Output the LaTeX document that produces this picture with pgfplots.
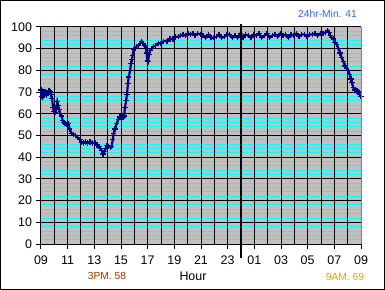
\documentclass[border=0pt]{standalone}
\usepackage{fontspec}
\setmainfont{Liberation Sans}
\usepackage{pgfplots}
\pgfplotsset{compat=1.18}
\definecolor{navyline}{HTML}{000080}
\definecolor{plotgray}{HTML}{C0C0C0}
\definecolor{cyanline}{HTML}{00FFFF}
\definecolor{minblue}{HTML}{3366FF}
\definecolor{brownlbl}{HTML}{993300}
\definecolor{orangelbl}{HTML}{FF9900}
\begin{document}
\begin{tikzpicture}
\begin{axis}[
  scale only axis, width=320bp, height=217bp,
  at={(0,0)}, anchor=south west,
  xmin=0, xmax=24, ymin=0, ymax=100,
  clip=false,
  axis background/.style={fill=plotgray},
  axis x line*=bottom, axis y line*=left,
  axis line style={line width=1bp, black, -},
  tick align=outside,
  major tick length=4.5bp,
  minor tick length=0pt,
  tick style={black, line width=1bp},
  xtick={0,2,...,24},
  xticklabels={09,11,13,15,17,19,21,23,01,03,05,07,09},
  ytick={0,10,...,100},
  minor y tick num=4,
  ymajorgrids, yminorgrids,
  major grid style={black, line width=1bp},
  minor grid style={cyanline, line width=0.9bp},
  extra x ticks={0,1,...,23},
  extra x tick labels={},
  extra x tick style={grid=major, major tick length=0pt, major grid style={black, line width=1bp}},
  /pgf/number format/assume math mode=true,
  ticklabel style={font=\fontsize{12.5}{14}\selectfont},
  xticklabel style={yshift=-4bp},
  yticklabel style={xshift=-1bp},
]
\addplot[navyline, line width=2.2bp, mark=+, mark size=2.6bp, mark options={line width=1.2bp}] coordinates {
(0.00,71) (0.05,68) (0.10,67.5) (0.15,70) (0.22,69) (0.30,70) (0.40,68.5) (0.50,69.5)
(0.60,70.5) (0.68,70) (0.75,69) (0.83,67) (0.90,63) (0.97,61) (1.03,60) (1.10,60.5)
(1.15,63) (1.22,65.5) (1.28,64) (1.35,62) (1.45,60) (1.55,59) (1.62,57) (1.68,56)
(1.80,55.5) (1.95,55) (2.05,55.5) (2.15,53) (2.30,51) (2.45,50.5) (2.60,50) (2.75,49)
(2.93,48) (3.05,47) (3.17,46.5) (3.35,47) (3.50,46.5) (3.68,47) (3.85,46.5) (4.05,46.5)
(4.20,45.5) (4.35,45) (4.45,44) (4.55,43) (4.65,41.5) (4.75,42.5) (4.85,44) (4.95,45.5)
(5.05,45) (5.20,44.5) (5.30,45) (5.38,48) (5.45,51) (5.55,53) (5.68,55.5) (5.80,57.5)
(5.93,58.5) (6.05,58) (6.15,58.5) (6.23,59) (6.30,63) (6.38,66) (6.45,69) (6.52,74)
(6.58,77) (6.68,80) (6.75,83) (6.82,85) (6.88,87) (6.95,89.5) (7.05,90) (7.18,91)
(7.30,91.5) (7.45,92.5) (7.55,93.5) (7.65,92.5) (7.75,91.5) (7.85,91) (7.92,88) (7.98,84.5)
(8.03,84) (8.10,87.5) (8.18,89) (8.30,90) (8.42,91) (8.60,91.5) (8.80,92.5) (9.00,92.5)
(9.20,93.5) (9.45,93.5) (9.68,94.5) (9.90,94.5) (10.10,95.5) (10.30,95.5) (10.45,96) (10.65,96.5)
(10.85,96) (11.05,97) (11.20,96.5) (11.40,97) (11.55,96) (11.75,97) (11.95,96.5)
(12.15,96) (12.35,95) (12.55,96.5) (12.75,95) (12.95,95) (13.15,95.5) (13.35,96.5) (13.55,95)
(13.75,95.5) (13.95,96.5) (14.15,96.5) (14.35,95) (14.55,96) (14.75,95) (14.95,97)
(15.15,95) (15.35,96.5) (15.55,96) (15.75,95) (15.95,96.5) (16.15,96) (16.35,97) (16.55,95)
(16.75,96) (16.95,97) (17.15,95) (17.35,96) (17.55,96.5) (17.75,95.5) (17.95,97) (18.15,96)
(18.35,96.5) (18.55,95) (18.75,96.5) (18.95,96) (19.15,97) (19.35,95.5) (19.55,96.5) (19.75,96.5)
(19.95,95.5) (20.15,96.5) (20.35,96.5) (20.55,97) (20.75,96) (20.95,97) (21.15,97) (21.35,97.5)
(21.50,98.5) (21.60,97.5) (21.70,96) (21.80,95) (21.93,94.5) (22.05,93) (22.18,92) (22.30,90)
(22.43,88) (22.55,86) (22.68,84) (22.80,82) (22.93,81) (23.05,80) (23.15,78) (23.25,76)
(23.32,74.5) (23.43,72) (23.55,71) (23.70,70.5) (23.80,70) (23.90,69) (24.00,68)
};
\end{axis}
\draw[gray, line width=1bp] (320bp,0) -- (320bp,217bp);
\draw[line width=2bp] (200bp,220bp) -- (200bp,-14bp);
\node[text=minblue, font=\fontsize{10.3}{12}\selectfont] at (286.5bp,230bp) {24hr-Min. 41};
\node[text=brownlbl, font=\fontsize{10.3}{12}\selectfont] at (66bp,-32bp) {3PM. 58};
\node[text=orangelbl, font=\fontsize{10.3}{12}\selectfont] at (304bp,-33bp) {9AM. 69};
\node[font=\fontsize{12.5}{14}\selectfont] at (152bp,-32bp) {Hour};
\draw[line width=1bp] (-40.5bp,-45.5bp) rectangle (343.5bp,243.5bp);
\pgfresetboundingbox
\useasboundingbox (-41bp,-46bp) rectangle (344bp,244bp);
\end{tikzpicture}
\end{document}
